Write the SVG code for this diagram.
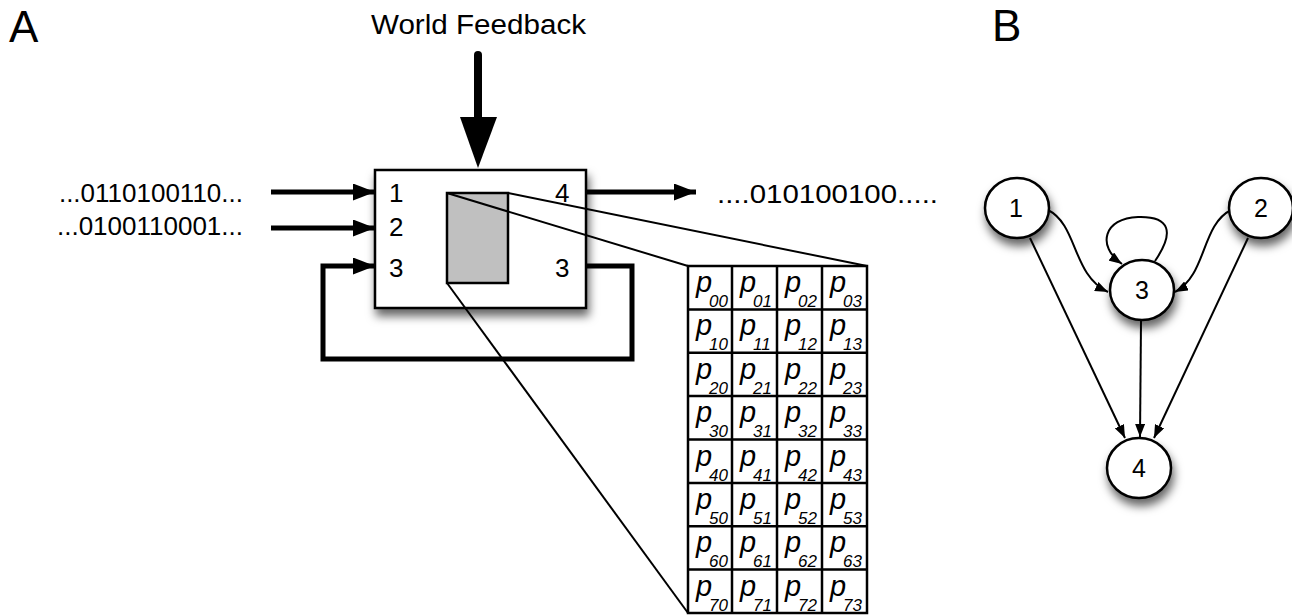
<svg xmlns="http://www.w3.org/2000/svg" width="1292" height="615" viewBox="0 0 1292 615">
<style>
text{font-family:"Liberation Sans",Arial,Helvetica,sans-serif;fill:#000}
.big{font-size:44px}
.lbl{font-size:26px}
.num{font-size:26px}
.nl{font-size:25px;text-anchor:middle}
.thick{stroke:#000;stroke-width:5;fill:none}
.thin{stroke:#000;stroke-width:2;fill:none}
.edge{stroke:#000;stroke-width:2;fill:none}
.pp{font-size:29px;font-style:italic}
.sb{font-size:17px;font-style:italic}
.grid{stroke:#000;stroke-width:2.5;fill:none}
</style>
<defs>
<filter id="sh" x="-30%" y="-30%" width="160%" height="170%">
<feDropShadow dx="2" dy="7" stdDeviation="5" flood-color="#000" flood-opacity="0.6"/>
</filter>
<marker id="ah" markerUnits="userSpaceOnUse" markerWidth="22" markerHeight="17" refX="22" refY="8.5" orient="auto">
<path d="M0,0 L22,8.5 L0,17 z" fill="#000"/>
</marker>
<marker id="as" markerUnits="userSpaceOnUse" markerWidth="13" markerHeight="10" refX="13" refY="5" orient="auto">
<path d="M0,0 L13,5 L0,10 z" fill="#000"/>
</marker>
</defs>
<rect width="1292" height="615" fill="#fff"/>

<text class="big" x="9" y="42">A</text>
<text class="big" x="992" y="41">B</text>

<text x="371" y="34" font-size="27" textLength="215" lengthAdjust="spacingAndGlyphs">World Feedback</text>
<text class="lbl" x="243" y="202" text-anchor="end">...0110100110...</text>
<text class="lbl" x="243" y="235" text-anchor="end">...0100110001...</text>
<text x="717" y="203" font-size="25" textLength="221" lengthAdjust="spacingAndGlyphs">....010100100.....</text>

<g id="module">
<rect x="375" y="170" width="211" height="138" fill="#fff" stroke="#000" stroke-width="2.5" filter="url(#sh)"/>
<text class="num" x="389" y="202">1</text>
<text class="num" x="389" y="236">2</text>
<text class="num" x="389" y="277">3</text>
<text class="num" x="555" y="202">4</text>
<text class="num" x="555" y="277">3</text>
<rect x="447" y="193" width="61" height="90" fill="#c0c0c0" stroke="#000" stroke-width="2.5"/>
</g>

<g id="zoomlines">
<line class="thin" x1="447" y1="193" x2="688" y2="266"/>
<line class="thin" x1="508" y1="193" x2="867" y2="266"/>
<line class="thin" x1="447" y1="283" x2="688" y2="613"/>
</g>

<g id="matrix">
<rect x="688" y="266" width="179" height="347" fill="#fff" stroke="#000" stroke-width="2.5"/>
<path class="grid" d="M732,266V613M777,266V613M822,266V613M688,309.4H867M688,352.8H867M688,396.1H867M688,439.5H867M688,482.9H867M688,526.3H867M688,569.6H867"/>
<g>
<text class="pp" x="696" y="292">p</text><text class="sb" x="709" y="307">00</text>
<text class="pp" x="740" y="292">p</text><text class="sb" x="753" y="307">01</text>
<text class="pp" x="785" y="292">p</text><text class="sb" x="798" y="307">02</text>
<text class="pp" x="830" y="292">p</text><text class="sb" x="843" y="307">03</text>

<text class="pp" x="696" y="335.4">p</text><text class="sb" x="709" y="350.4">10</text>
<text class="pp" x="740" y="335.4">p</text><text class="sb" x="753" y="350.4">11</text>
<text class="pp" x="785" y="335.4">p</text><text class="sb" x="798" y="350.4">12</text>
<text class="pp" x="830" y="335.4">p</text><text class="sb" x="843" y="350.4">13</text>

<text class="pp" x="696" y="378.8">p</text><text class="sb" x="709" y="393.8">20</text>
<text class="pp" x="740" y="378.8">p</text><text class="sb" x="753" y="393.8">21</text>
<text class="pp" x="785" y="378.8">p</text><text class="sb" x="798" y="393.8">22</text>
<text class="pp" x="830" y="378.8">p</text><text class="sb" x="843" y="393.8">23</text>

<text class="pp" x="696" y="422.1">p</text><text class="sb" x="709" y="437.1">30</text>
<text class="pp" x="740" y="422.1">p</text><text class="sb" x="753" y="437.1">31</text>
<text class="pp" x="785" y="422.1">p</text><text class="sb" x="798" y="437.1">32</text>
<text class="pp" x="830" y="422.1">p</text><text class="sb" x="843" y="437.1">33</text>

<text class="pp" x="696" y="465.5">p</text><text class="sb" x="709" y="480.5">40</text>
<text class="pp" x="740" y="465.5">p</text><text class="sb" x="753" y="480.5">41</text>
<text class="pp" x="785" y="465.5">p</text><text class="sb" x="798" y="480.5">42</text>
<text class="pp" x="830" y="465.5">p</text><text class="sb" x="843" y="480.5">43</text>

<text class="pp" x="696" y="508.9">p</text><text class="sb" x="709" y="523.9">50</text>
<text class="pp" x="740" y="508.9">p</text><text class="sb" x="753" y="523.9">51</text>
<text class="pp" x="785" y="508.9">p</text><text class="sb" x="798" y="523.9">52</text>
<text class="pp" x="830" y="508.9">p</text><text class="sb" x="843" y="523.9">53</text>

<text class="pp" x="696" y="552.3">p</text><text class="sb" x="709" y="567.3">60</text>
<text class="pp" x="740" y="552.3">p</text><text class="sb" x="753" y="567.3">61</text>
<text class="pp" x="785" y="552.3">p</text><text class="sb" x="798" y="567.3">62</text>
<text class="pp" x="830" y="552.3">p</text><text class="sb" x="843" y="567.3">63</text>

<text class="pp" x="696" y="595.6">p</text><text class="sb" x="709" y="610.6">70</text>
<text class="pp" x="740" y="595.6">p</text><text class="sb" x="753" y="610.6">71</text>
<text class="pp" x="785" y="595.6">p</text><text class="sb" x="798" y="610.6">72</text>
<text class="pp" x="830" y="595.6">p</text><text class="sb" x="843" y="610.6">73</text>
</g>
</g>

<g id="connectors-A">
<line x1="478" y1="55" x2="478" y2="120" stroke="#000" stroke-width="8" stroke-linecap="round"/>
<polygon points="460,117 497,117 478,168" fill="#000"/>
<line class="thick" x1="271" y1="192" x2="375" y2="192" marker-end="url(#ah)"/>
<line class="thick" x1="271" y1="228" x2="375" y2="228" marker-end="url(#ah)"/>
<line class="thick" x1="586" y1="192" x2="696" y2="192" marker-end="url(#ah)"/>
<polyline class="thick" points="586,266 632,266 632,359 323,359 323,266 375,266" marker-end="url(#ah)"/>
</g>

<g id="connectors-B">
<line class="edge" x1="1030" y1="238" x2="1125" y2="438" marker-end="url(#as)"/>
<line class="edge" x1="1248" y1="238" x2="1154" y2="438" marker-end="url(#as)"/>
<line class="edge" x1="1141" y1="321" x2="1140" y2="437" marker-end="url(#as)"/>
<path class="edge" d="M1048,210 C1078,225 1072,275 1108,292" marker-end="url(#as)"/>
<path class="edge" d="M1231,210 C1201,225 1207,275 1175,292" marker-end="url(#as)"/>
<path class="edge" d="M1155,261 C1175,232 1170,216 1138,217 C1104,218 1096,246 1122,264" marker-end="url(#as)"/>
</g>

<g id="n1"><ellipse cx="1017" cy="208" rx="32" ry="30" fill="#fff" stroke="#000" stroke-width="2.5" filter="url(#sh)"/><text class="nl" x="1016" y="217">1</text></g>
<g id="n2"><ellipse cx="1261" cy="208" rx="32" ry="30" fill="#fff" stroke="#000" stroke-width="2.5" filter="url(#sh)"/><text class="nl" x="1261" y="217">2</text></g>
<g id="n3"><ellipse cx="1142" cy="290" rx="32" ry="30" fill="#fff" stroke="#000" stroke-width="2.5" filter="url(#sh)"/><text class="nl" x="1142" y="299">3</text></g>
<g id="n4"><ellipse cx="1139" cy="468" rx="32" ry="30" fill="#fff" stroke="#000" stroke-width="2.5" filter="url(#sh)"/><text class="nl" x="1139" y="477">4</text></g>
</svg>
